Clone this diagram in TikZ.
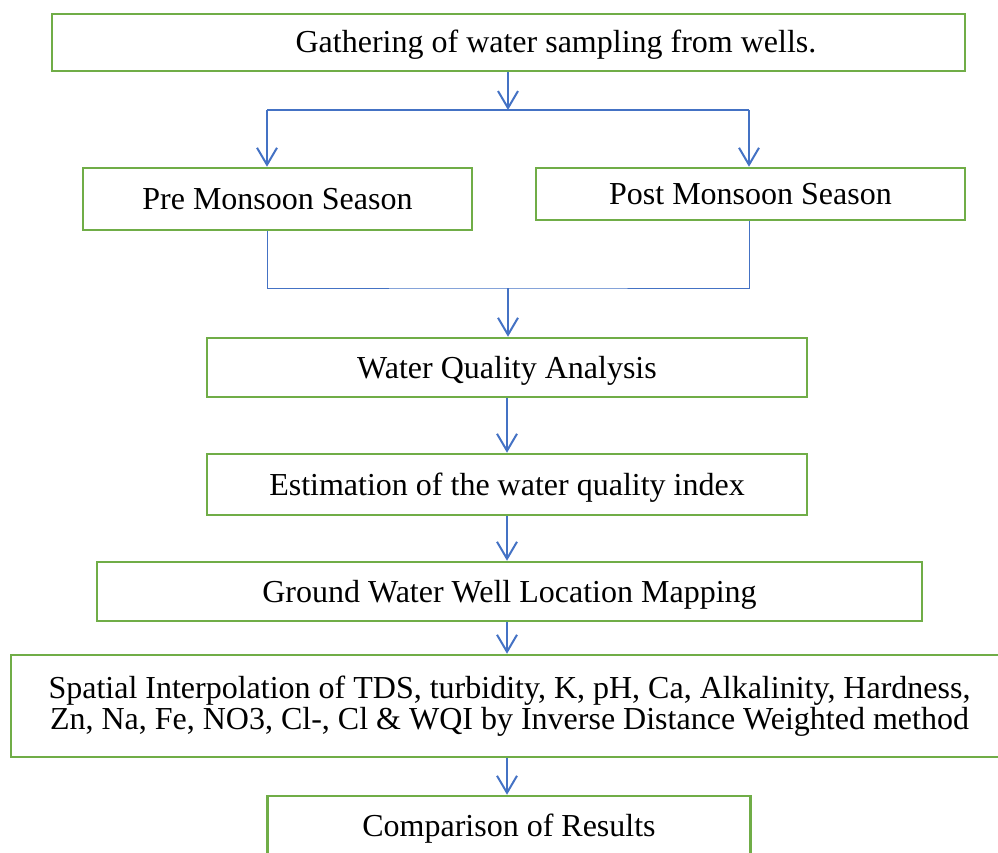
\documentclass[tikz,border=0pt]{standalone}
\usepackage{fontspec}
\setmainfont{Liberation Serif}
\usepackage{tikz}
\usetikzlibrary{arrows.meta}

\definecolor{boxgreen}{HTML}{70AD47}
\definecolor{flowblue}{HTML}{4472C4}

\tikzset{
  stage/.style={draw=boxgreen, line width=2.5pt, inner sep=0pt, font=\fontsize{32}{31.5}\selectfont},
  oneline/.style={stage, text height=21pt, text depth=0pt},
  flow/.style={draw=flowblue, line width=2pt, -{Straight Barb[length=17pt, width=20pt]}},
  branch/.style={draw=flowblue, line width=1.3pt},
  joinline/.style={draw=flowblue, line width=1pt}
}

\begin{document}
\begin{tikzpicture}[x=1pt, y=-1pt]
  \useasboundingbox (0,0) rectangle (998,853);

  \node[oneline, minimum width=913pt, minimum height=57pt] (gather) at (508.5,42.5) {\hspace*{95pt}Gathering of water sampling from wells.};

  \node[oneline, minimum width=389pt, minimum height=62pt] (pre) at (277.5,199) {Pre Monsoon Season};
  \node[oneline, minimum width=429pt, minimum height=52pt] (post) at (750.5,194) {Post Monsoon Season};

  \node[oneline, minimum width=600pt, minimum height=59pt] (wqa) at (507,367.5) {Water Quality Analysis};
  \node[oneline, minimum width=600pt, minimum height=61pt] (wqi) at (507,484.5) {Estimation of the water quality index};
  \node[oneline, minimum width=825pt, minimum height=59pt] (mapping) at (509.5,591.5) {Ground Water Well Location Mapping};
  \node[stage, minimum width=997pt, minimum height=102pt, align=center] (idw) at (509.5,706)
    {Spatial Interpolation of TDS, turbidity, K, pH, Ca, Alkalinity, Hardness,\\
     Zn, Na, Fe, NO3, Cl-, Cl \& WQI by Inverse Distance Weighted method};
  \node[oneline, minimum width=483pt, minimum height=60pt] (compare) at (509,826) {Comparison of Results};

  % split into the two seasons
  \coordinate (split) at (508,110);
  \coordinate (preline) at (267,110);
  \coordinate (postline) at (749,110);
  \draw[flow] (gather.south -| split) -- (split);
  \draw[branch] (preline) -- (postline);
  \draw[flow] (preline) -- (preline |- pre.north);
  \draw[flow] (postline) -- (postline |- post.north);

  % join again
  \coordinate (join) at (508,288);
  \draw[joinline] (pre.south -| preline) |- (join) -| (post.south -| postline);
  \draw[flow] (join) -- (join |- wqa.north);

  \coordinate (spine) at (507,0);
  \draw[flow] (wqa.south -| spine) -- (spine |- wqi.north);
  \draw[flow] (wqi.south -| spine) -- (spine |- mapping.north);
  \draw[flow] (mapping.south -| spine) -- (spine |- idw.north);
  \draw[flow] (idw.south -| spine) -- (spine |- compare.north);

\end{tikzpicture}
\end{document}
